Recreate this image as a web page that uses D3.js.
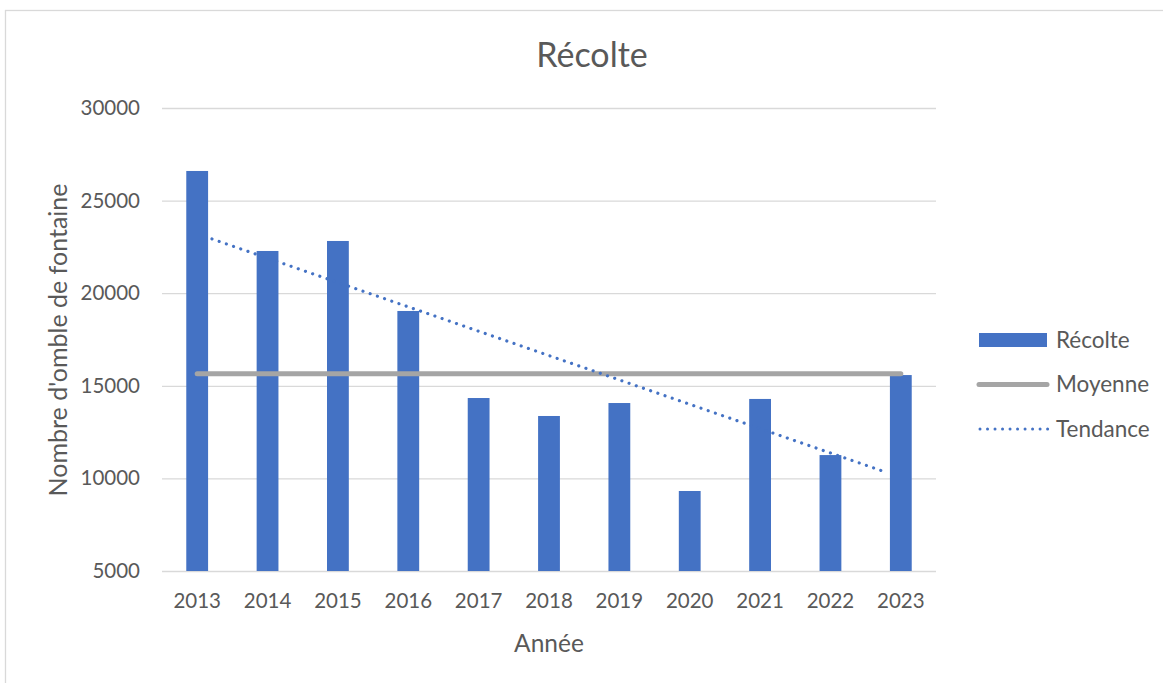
<!DOCTYPE html>
<html>
<head>
<meta charset="utf-8">
<script src="https://cdn.jsdelivr.net/npm/d3@7"></script>
<style>
  body { margin: 0; background: #fff; }
  svg text { font-family: Lato, "Open Sans", sans-serif; fill: #595959; }
</style>
</head>
<body>
<div class="chart"></div>
<script>
// data
const years = [2013, 2014, 2015, 2016, 2017, 2018, 2019, 2020, 2021, 2022, 2023];
const recolte = [26600, 22280, 22820, 19040, 14340, 13370, 14070, 9320, 14290, 11260, 15580];
const moyenne = [15650, 15650, 15650, 15650, 15650, 15650, 15650, 15650, 15650, 15650, 15650];
// trend line end points (fractional year, value)
const trendX = [2013.21, 2022.77];
const trendY = [22930, 10360];
const yTicks = [5000, 10000, 15000, 20000, 25000, 30000];
const legendNames = ["Récolte", "Moyenne", "Tendance"];

const W = 1163, H = 683;
let margin = { top: 108, right: 227, bottom: 112, left: 162 },
  width = W - margin.left - margin.right,
  height = H - margin.top - margin.bottom;

const blue = "#4472C4", grey = "#A5A5A5";

let root = d3.select(".chart").append("svg")
  .attr("width", W).attr("height", H);

// chart border
root.append("rect")
  .attr("x", 5.5).attr("y", 10.5)
  .attr("width", W + 20).attr("height", H + 20)
  .attr("fill", "none").attr("stroke", "#D9D9D9").attr("stroke-width", 1.3);

let svg = root.append("g")
  .attr("transform", "translate(" + margin.left + "," + margin.top + ")");

// AXIS
let x = d3.scaleBand().domain(years).range([0, width]).padding(0);
let xLin = d3.scaleLinear().domain([2012.5, 2023.5]).range([0, width]);
let y = d3.scaleLinear().domain([5000, 30000]).range([height, 0]);

const yAxis = d3.axisLeft(y).tickValues(yTicks).tickSize(-width).tickPadding(22).tickFormat(d3.format("d"));
const yAxisGroup = svg.append("g").attr("class", "axis y-axis").call(yAxis);
yAxisGroup.select(".domain").remove();
yAxisGroup.selectAll("line").attr("stroke", "#D9D9D9").attr("stroke-width", 1.3);
yAxisGroup.selectAll("text").attr("font-size", 20.5).style("fill", "#595959");

const xAxis = d3.axisBottom(x).tickSize(0).tickPadding(22).tickFormat(d3.format("d"));
const xAxisGroup = svg.append("g")
  .attr("class", "axis x-axis")
  .attr("transform", "translate(0," + height + ")")
  .call(xAxis);
xAxisGroup.select(".domain").remove();
xAxisGroup.selectAll("text").attr("font-size", 20.5).style("fill", "#595959");

// bars
const barW = x.bandwidth() * 0.31;
svg.selectAll(".bar")
  .data(years.map((d, i) => ({ year: d, value: recolte[i] })))
  .enter()
  .append("rect")
  .attr("class", "bar")
  .attr("x", (d) => x(d.year) + (x.bandwidth() - barW) / 2)
  .attr("width", barW)
  .attr("y", (d) => y(d.value))
  .attr("height", (d) => height - y(d.value))
  .attr("fill", blue);

// moyenne
const line = d3.line()
  .x((d) => x(d[0]) + x.bandwidth() / 2)
  .y((d) => y(d[1]));
svg.append("path")
  .datum(years.map((d, i) => [d, moyenne[i]]))
  .attr("d", line)
  .attr("fill", "none")
  .attr("stroke", grey)
  .attr("stroke-width", 5)
  .attr("stroke-linecap", "round");

// tendance
svg.append("path")
  .datum(trendX.map((d, i) => [d, trendY[i]]))
  .attr("d", d3.line().x((d) => xLin(d[0])).y((d) => y(d[1])))
  .attr("fill", "none")
  .attr("stroke", blue)
  .attr("stroke-width", 3.2)
  .attr("stroke-linecap", "round")
  .attr("stroke-dasharray", "0.01 7.6");

// titles
root.append("text")
  .attr("x", 592).attr("y", 67)
  .attr("text-anchor", "middle")
  .attr("font-size", 34)
  .text("Récolte");

root.append("text")
  .attr("x", 549).attr("y", 652)
  .attr("text-anchor", "middle")
  .attr("font-size", 24.5)
  .text("Année");

root.append("text")
  .attr("transform", "translate(67,340) rotate(-90)")
  .attr("text-anchor", "middle")
  .attr("font-size", 25)
  .text("Nombre d'omble de fontaine");

// legend
const legend = root.append("g").attr("transform", "translate(978,340)");
legendNames.forEach((name, i) => {
  const g = legend.append("g").attr("transform", "translate(0," + i * 44.5 + ")");
  if (i === 0) {
    g.append("rect").attr("x", 1).attr("y", -7).attr("width", 68).attr("height", 14).attr("fill", blue);
  } else if (i === 1) {
    g.append("line").attr("x1", 1).attr("x2", 69).attr("stroke", grey)
      .attr("stroke-width", 5).attr("stroke-linecap", "round");
  } else {
    g.append("line").attr("x1", 2).attr("x2", 70).attr("stroke", blue)
      .attr("stroke-width", 3).attr("stroke-linecap", "round")
      .attr("stroke-dasharray", "0.01 7.5");
  }
  g.append("text").attr("x", 78).attr("dy", "0.35em")
    .attr("font-size", 22.5).text(name);
});
</script>
</body>
</html>
